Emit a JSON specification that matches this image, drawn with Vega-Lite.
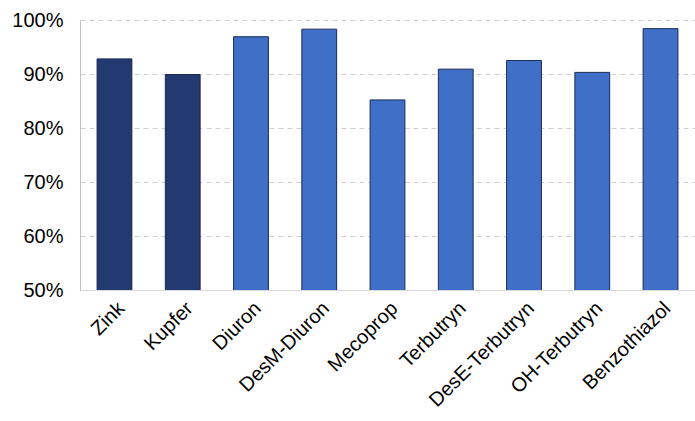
{
  "$schema": "https://vega.github.io/schema/vega-lite/v6.json",
  "autosize": "none",
  "padding": {"left": 80, "top": 20, "right": 0, "bottom": 131},
  "width": 615,
  "height": 270,
  "background": "white",
  "config": {
    "view": {"stroke": null},
    "font": "Liberation Sans"
  },
  "data": {
    "values": [
      {"stoff": "Zink", "wert": 0.928, "gruppe": "Metall"},
      {"stoff": "Kupfer", "wert": 0.899, "gruppe": "Metall"},
      {"stoff": "Diuron", "wert": 0.969, "gruppe": "Organisch"},
      {"stoff": "DesM-Diuron", "wert": 0.983, "gruppe": "Organisch"},
      {"stoff": "Mecoprop", "wert": 0.852, "gruppe": "Organisch"},
      {"stoff": "Terbutryn", "wert": 0.909, "gruppe": "Organisch"},
      {"stoff": "DesE-Terbutryn", "wert": 0.925, "gruppe": "Organisch"},
      {"stoff": "OH-Terbutryn", "wert": 0.903, "gruppe": "Organisch"},
      {"stoff": "Benzothiazol", "wert": 0.984, "gruppe": "Organisch"}
    ]
  },
  "mark": {"type": "bar", "stroke": "#1a2a55", "strokeWidth": 1, "clip": true},
  "encoding": {
    "x": {
      "field": "stoff",
      "type": "nominal",
      "sort": null,
      "scale": {"paddingInner": 0.49, "paddingOuter": 0.25},
      "axis": {
        "title": null,
        "labelAngle": -45,
        "labelAlign": "right",
        "labelBaseline": "middle",
        "labelFontSize": 20,
        "labelColor": "#000000",
        "labelPadding": 15,
        "labelOffset": 7,
        "ticks": false,
        "domainColor": "#d9d9d9",
        "labelFont": "Liberation Sans"
      }
    },
    "y": {
      "field": "wert",
      "type": "quantitative",
      "scale": {"domain": [0.5, 1.0], "zero": false, "nice": false},
      "axis": {
        "title": null,
        "format": ".0%",
        "values": [0.5, 0.6, 0.7, 0.8, 0.9, 1.0],
        "labelFontSize": 20,
        "labelColor": "#000000",
        "labelPadding": 17,
        "ticks": false,
        "domainColor": "#bfbfbf",
        "gridColor": "#d0d0d0",
        "gridDash": [5, 4],
        "labelFont": "Liberation Sans"
      }
    },
    "color": {
      "field": "gruppe",
      "type": "nominal",
      "scale": {"domain": ["Metall", "Organisch"], "range": ["#223a70", "#3f6fc6"]},
      "legend": null
    }
  }
}
